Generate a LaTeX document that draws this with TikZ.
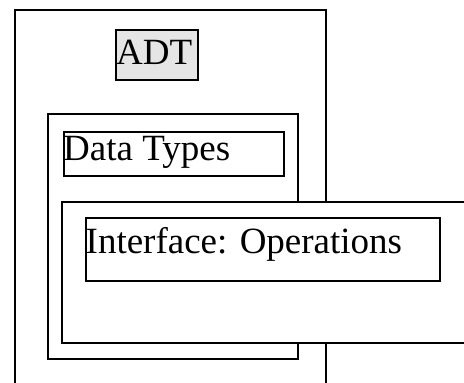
\documentclass[tikz,border=0pt]{standalone}
\usepackage{fontspec}
\setmainfont{Liberation Serif}
\usetikzlibrary{positioning}

\tikzset{
    frame/.style={draw, line width=1.5pt, fill=white, rectangle, inner sep=0pt, anchor=north west},
    caption/.style={inner sep=0pt, anchor=base west, font=\fontsize{37}{44}\selectfont}
}

\begin{document}
\begin{tikzpicture}[x=1pt, y=-1pt]
    \useasboundingbox (0,0) rectangle (464,383);
    \clip (0,0) rectangle (464,383);

    % Outer ADT frame (runs off the bottom)
    \node[frame, minimum width=311pt, minimum height=420pt] (adtframe) at (14,9) {};
    \node[frame, fill=black!10, minimum width=82pt, minimum height=50pt] (adtbox) at (115,29) {};
    \node[caption] (adtlabel) at ([xshift=1pt, yshift=-35pt]adtbox.north west) {ADT};

    % Data types
    \node[frame, minimum width=250pt, minimum height=245pt] (typesframe) at (47,113) {};
    \node[frame, minimum width=220pt, minimum height=44pt] (typesbox) at (63,131) {};
    \node[caption] (typeslabel) at ([yshift=-29pt]typesbox.north west) {Data Types};

    % Interface (runs off the right)
    \node[frame, minimum width=430pt, minimum height=141pt] (opsframe) at (61,201) {};
    \node[frame, minimum width=354pt, minimum height=63pt] (opsbox) at (85,217) {};
    \node[caption] (opslabel) at ([xshift=0.5pt, yshift=-36pt]opsbox.north west) {Interface: Operations};
\end{tikzpicture}
\end{document}
